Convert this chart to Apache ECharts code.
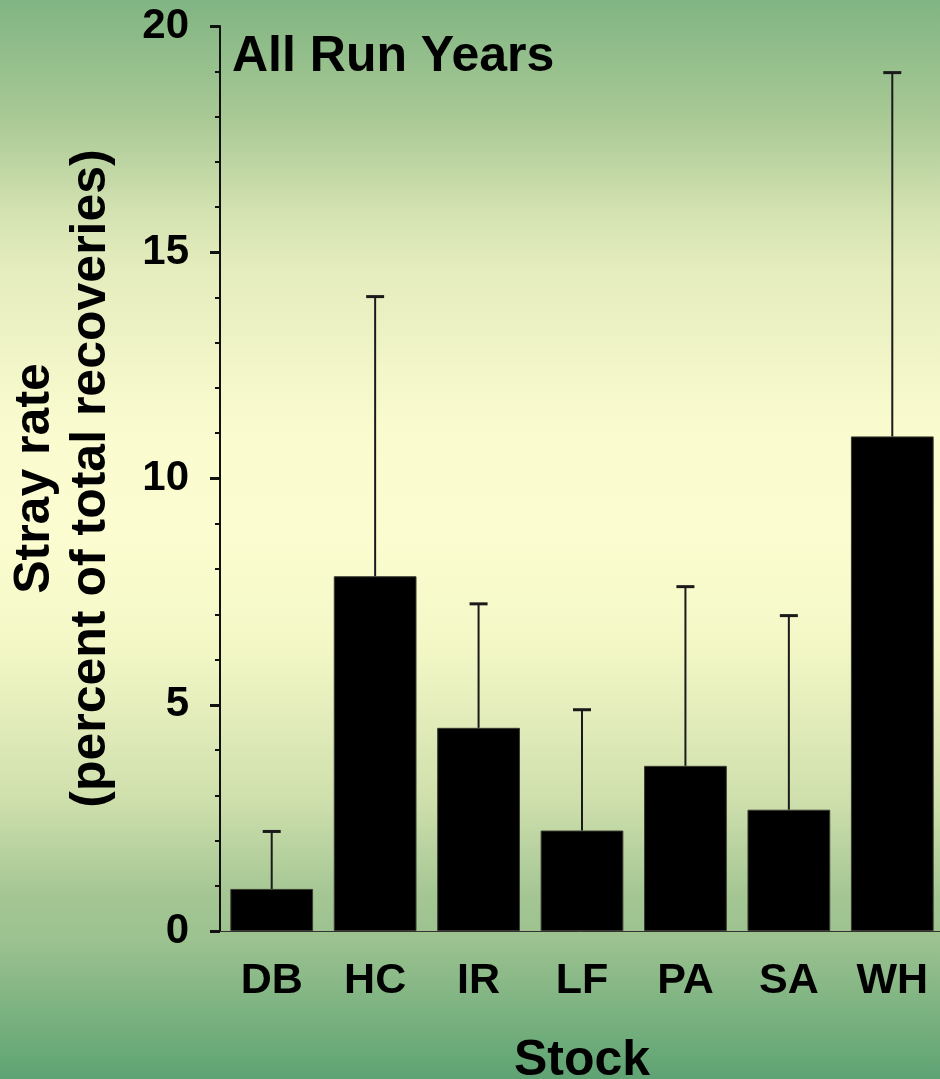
<!DOCTYPE html>
<html>
<head>
<meta charset="utf-8">
<script src="https://cdn.jsdelivr.net/npm/echarts@6/dist/echarts.min.js"></script>
<style>
html,body{margin:0;padding:0;width:940px;height:1079px;overflow:hidden;}
#chart{width:940px;height:1079px;}
</style>
</head>
<body>
<div id="chart"></div>
<script>
// Data
var categories = ['DB', 'HC', 'IR', 'LF', 'PA', 'SA', 'WH'];
var meanValues = [0.93, 7.84, 4.49, 2.22, 3.65, 2.68, 10.93];
var upperValues = [2.20, 14.02, 7.23, 4.89, 7.61, 6.97, 18.97];
var yTicks = [0, 5, 10, 15, 20];
var titleText = 'All Run Years';
var yAxisName = 'Stray rate\n(percent of total recoveries)';
var xAxisName = 'Stock';

var FONT = '"Liberation Sans", Arial, Helvetica, sans-serif';
var chart = echarts.init(document.getElementById('chart'));

var errorData = categories.map(function (c, i) { return [i, meanValues[i], upperValues[i]]; });

var option = {
  animation: false,
  backgroundColor: new echarts.graphic.LinearGradient(0, 0, 0, 1, [
    { offset: 0.00, color: '#80b583' },
    { offset: 0.11, color: '#a9c995' },
    { offset: 0.20, color: '#d5e3b2' },
    { offset: 0.25, color: '#e5ecbd' },
    { offset: 0.40, color: '#fafccf' },
    { offset: 0.50, color: '#fbfdd0' },
    { offset: 0.60, color: '#f3f7c6' },
    { offset: 0.74, color: '#cfe0ad' },
    { offset: 0.83, color: '#a4c693' },
    { offset: 0.87, color: '#9cc290' },
    { offset: 0.98, color: '#68a877' },
    { offset: 1.00, color: '#5fa274' }
  ]),
  textStyle: { fontFamily: FONT },
  grid: { left: 220, top: 26, width: 724, bottom: 148, containLabel: false, outerBoundsMode: 'none' },
  graphic: [{
    type: 'text',
    x: 232,
    y: 57,
    style: {
      text: titleText,
      font: 'bold 50px ' + FONT,
      fill: '#000',
      verticalAlign: 'middle',
      textVerticalAlign: 'middle'
    }
  }],
  xAxis: {
    type: 'category',
    data: categories,
    name: xAxisName,
    nameLocation: 'middle',
    nameGap: 105,
    nameTextStyle: { fontSize: 50, fontWeight: 'bold', color: '#000', fontFamily: FONT, verticalAlign: 'top' },
    axisLine: { show: true, lineStyle: { color: '#333', width: 1 } },
    axisTick: { show: false },
    axisLabel: { margin: 29, fontSize: 43, fontWeight: 'bold', color: '#000', fontFamily: FONT },
    splitLine: { show: false }
  },
  yAxis: {
    type: 'value',
    min: yTicks[0],
    max: yTicks[yTicks.length - 1],
    interval: yTicks[1] - yTicks[0],
    name: yAxisName,
    nameLocation: 'middle',
    nameGap: 101,
    nameRotate: 90,
    nameTextStyle: { fontSize: 50, fontWeight: 'bold', color: '#000', fontFamily: FONT, lineHeight: 56 },
    axisLine: { show: true, lineStyle: { color: '#111', width: 2 } },
    axisTick: { show: true, inside: false, length: 10, lineStyle: { color: '#111', width: 3 } },
    minorTick: { show: true, splitNumber: 5, length: 5, lineStyle: { color: '#111', width: 2 } },
    axisLabel: { margin: 31, fontSize: 42, fontWeight: 'bold', color: '#000', fontFamily: FONT },
    splitLine: { show: false },
    minorSplitLine: { show: false }
  },
  series: [{
    type: 'bar',
    data: meanValues,
    barCategoryGap: '20%',
    itemStyle: { color: '#000', borderColor: '#3a3a30', borderWidth: 1 },
    z: 2
  }, {
    type: 'custom',
    data: errorData,
    z: 3,
    renderItem: function (params, api) {
      var i = api.value(0);
      var top = api.coord([i, api.value(2)]);
      var base = api.coord([i, api.value(1)]);
      var half = 9;
      return {
        type: 'group',
        children: [{
          type: 'line',
          shape: { x1: top[0], y1: top[1], x2: base[0], y2: base[1] },
          style: { stroke: '#1a1a1a', lineWidth: 2 }
        }, {
          type: 'line',
          shape: { x1: top[0] - half, y1: top[1], x2: top[0] + half, y2: top[1] },
          style: { stroke: '#1a1a1a', lineWidth: 3 }
        }]
      };
    }
  }]
};
chart.setOption(option);
</script>
</body>
</html>
